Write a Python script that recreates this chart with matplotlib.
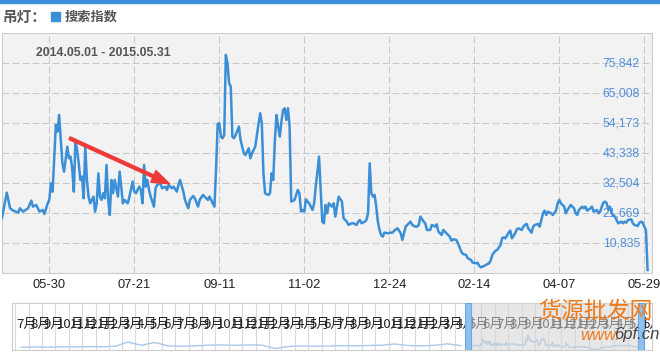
import pandas as pd
import matplotlib
matplotlib.use("Agg")
import matplotlib.pyplot as plt
from matplotlib.patches import Rectangle

# search index for "吊灯", 2014.05.01 - 2015.05.31 (day offset from start, value)
start = pd.Timestamp("2014-05-01")
day_offsets = [
    0, 3, 5, 7, 10, 11, 13, 16, 18, 19, 21, 23, 25, 26, 28, 29, 30, 31, 33, 34,
    35, 36, 37, 38, 40, 41, 42, 43, 44, 45, 46, 47, 48, 49, 50, 51, 52, 53, 54, 56,
    57, 58, 59, 60, 61, 62, 63, 64, 65, 66, 67, 68, 69, 71, 72, 73, 74, 75, 77, 78,
    80, 81, 82, 84, 85, 86, 87, 88, 89, 90, 91, 93, 94, 95, 97, 98, 100, 101, 102, 104,
    105, 107, 108, 109, 111, 112, 114, 115, 117, 118, 120, 121, 123, 124, 126, 127, 129, 130, 131, 132,
    133, 134, 135, 136, 137, 138, 139, 140, 141, 142, 143, 145, 146, 148, 149, 151, 152, 153, 155, 156,
    158, 159, 160, 161, 163, 164, 165, 166, 167, 168, 169, 170, 171, 172, 173, 174, 175, 176, 177, 179,
    180, 181, 182, 183, 184, 185, 186, 187, 188, 190, 191, 192, 194, 195, 196, 197, 198, 199, 200, 201,
    202, 203, 204, 205, 206, 208, 209, 211, 212, 214, 215, 217, 218, 219, 220, 222, 223, 224, 225, 226,
    227, 228, 229, 230, 231, 232, 233, 234, 236, 238, 239, 240, 242, 244, 245, 246, 247, 249, 250, 251,
    253, 254, 255, 256, 258, 259, 260, 262, 263, 265, 266, 267, 269, 270, 272, 274, 275, 276, 278, 279,
    281, 282, 284, 285, 287, 288, 290, 291, 292, 293, 295, 296, 298, 299, 300, 302, 303, 305, 306, 307,
    308, 310, 311, 312, 314, 315, 316, 318, 319, 320, 321, 322, 324, 325, 326, 328, 329, 330, 331, 332,
    333, 334, 336, 337, 339, 340, 341, 342, 344, 345, 346, 348, 350, 351, 352, 353, 355, 356, 357, 358,
    360, 361, 362, 364, 365, 366, 367, 368, 369, 370, 371, 372, 373, 375, 376, 377, 379, 380, 381, 382,
    383, 385, 386, 387, 389, 390, 391, 392, 393, 394, 395,
]
index_vals = [
    19870, 29140, 23480, 22640, 21910, 23480, 22270, 23480, 26250, 24080, 24680, 22270, 22880, 21430, 25280, 26490, 32510, 29500, 53580, 51170,
    57190, 48160, 39730, 36720, 45750, 41540, 42140, 37930, 29500, 48160, 44550, 39730, 33710, 34920, 27090, 45750, 33710, 27690, 25280, 27690,
    22270, 25280, 36120, 27690, 26490, 28900, 27090, 39130, 26490, 21070, 33710, 28900, 33710, 27690, 36720, 31300, 25280, 26490, 25280, 27690,
    33110, 29500, 28900, 31300, 30100, 25280, 39130, 31300, 33710, 30100, 27690, 24080, 30700, 31910, 32510, 30700, 31300, 30100, 31910, 30700,
    31300, 29500, 31910, 33710, 29500, 26490, 23480, 26490, 27930, 27090, 24080, 26490, 28290, 27690, 26490, 27690, 25280, 24080, 37320, 54000,
    54180, 49360, 48760, 49970, 78860, 75850, 68630, 67420, 49360, 48760, 49970, 52980, 48160, 43340, 42740, 45150, 41540, 43340, 45750, 49970,
    57790, 54180, 36120, 28900, 28290, 28900, 36120, 33710, 48160, 57190, 52980, 49360, 54780, 59000, 59600, 55380, 59600, 52980, 25890, 26490,
    28290, 30100, 28900, 22270, 22880, 22270, 26730, 25890, 25280, 22880, 25280, 31300, 42140, 30100, 18660, 18060, 24680, 21670, 25280, 24680,
    24080, 25280, 20470, 24080, 27690, 25890, 19870, 18660, 17460, 18060, 18060, 17460, 18660, 19260, 18060, 18660, 19260, 21670, 39730, 28900,
    27690, 28290, 24080, 18660, 15650, 13850, 13240, 14690, 14450, 14690, 14690, 15410, 16250, 14450, 12040, 14450, 16860, 18060, 18660, 17460,
    16860, 16860, 17460, 20470, 18660, 18060, 15650, 15650, 17460, 16860, 17700, 15050, 13850, 15650, 14450, 13240, 11800, 12280, 12040, 10840,
    7830, 6980, 6620, 5420, 4820, 3850, 3610, 3850, 2650, 2170, 2650, 3010, 3610, 4580, 6620, 8190, 8430, 10230, 12640, 13000,
    12640, 14690, 15410, 12640, 14450, 15890, 16250, 15650, 16860, 17460, 17820, 16250, 14690, 16860, 17460, 17820, 16860, 19260, 21670, 22640,
    21070, 22270, 21670, 21070, 22640, 25280, 26490, 25280, 24080, 21670, 22880, 24680, 23480, 21670, 21070, 22880, 24080, 23480, 24080, 22640,
    23480, 24080, 22270, 22880, 21670, 22270, 24080, 25530, 25890, 25280, 22880, 24080, 21670, 20470, 19260, 18060, 18660, 18060, 18660, 18300,
    19260, 19510, 18060, 17460, 17100, 18300, 18660, 18300, 16860, 15650, 1200,
]

tick_dates = ["2014-05-30", "2014-07-21", "2014-09-11", "2014-11-02",
              "2014-12-24", "2015-02-14", "2015-04-07", "2015-05-29"]
tick_labels = ["05-30", "07-21", "09-11", "11-02", "12-24", "02-14", "04-07", "05-29"]
y_ticks = [10835, 21669, 32504, 43338, 54173, 65008, 75842]
y_max = 86676

# navigator: earlier history, one value per month from 2011-07
nav_early = [15000, 16000, 15000, 17000, 16000, 18000, 17000, 20000, 42000, 25000,
             40000, 22000, 20000, 22000, 26000, 27000, 25000, 27000, 26000, 8000,
             18000, 22000, 20000, 21000, 23000, 22000, 24000, 25000, 32000, 24000,
             22000, 25000, 33000, 23000]
nav_start = pd.Timestamp("2011-07-01")

blue = "#3a8fd6"
W, H = 660, 353


def box(x0, y0, x1, y1):
    # pixel box (top-left origin) -> figure fraction
    return [x0 / W, 1 - y1 / H, (x1 - x0) / W, (y1 - y0) / H]


plt.rcParams["font.family"] = ["Liberation Sans", "Noto Sans CJK SC", "DejaVu Sans"]
fig = plt.figure(figsize=(W / 100, H / 100), dpi=100)

# header
fig.patches.append(Rectangle((0, 1 - 2.5 / H), 1, 2.5 / H, transform=fig.transFigure,
                             color=blue, zorder=5))
cjk = ["Noto Sans CJK SC", "DejaVu Sans"]
fig.text(2 / W, 1 - 17 / H, "吊灯：", family=cjk, weight="bold", size=10.5,
         color="#555555", va="center")
fig.patches.append(Rectangle((51 / W, 1 - 21 / H), 8.5 / W, 8.5 / H,
                             transform=fig.transFigure, color=blue))
fig.text(65 / W, 1 - 17 / H, "搜索指数", family=cjk, weight="bold", size=9.5,
         color="#555555", va="center")

# main chart
ax = fig.add_axes(box(2, 33.3, 652, 273.3))
ax.set_facecolor("#f2f2f2")
dates = start + pd.to_timedelta(day_offsets, unit="D")
ax.plot(dates, index_vals, color=blue, lw=1.8, solid_joinstyle="round", zorder=3)
ax.set_xlim(start + pd.Timedelta(days=0.06), start + pd.Timedelta(days=397.7))
ax.set_ylim(0, y_max)
ax.set_xticks(pd.to_datetime(tick_dates))
ax.set_xticklabels(tick_labels, size=9.3, color="#222222")
ax.set_yticks(y_ticks)
ax.set_yticklabels([])
ax.tick_params(length=0, pad=4)
ax.grid(True, color="#c8c8c8", lw=0.75, ls=(0, (6.7, 2.9)))
for s in ax.spines.values():
    s.set_color("#cccccc")
for v in y_ticks:
    ax.text(0.9815, v, f"{v:,}", transform=ax.get_yaxis_transform(), ha="right",
            va="center", size=8.7, color="#4f8fdc", zorder=4)
ax.text(0.052, 0.92, "2014.05.01 - 2015.05.31", transform=ax.transAxes, size=8.8,
        weight="bold", color="#555555", va="center")

# red arrow annotation
ax.annotate("", xy=(start + pd.Timedelta(days=102.7), 32300),
            xytext=(start + pd.Timedelta(days=41.4), 48800),
            arrowprops=dict(arrowstyle="simple,head_length=1.0,head_width=0.7,tail_width=0.16",
                            color="#f03a3a", mutation_scale=13, shrinkA=0, shrinkB=0),
            zorder=5)

# navigator
nav = fig.add_axes(box(12, 303, 652, 350))
nav.set_facecolor("white")
months = pd.date_range(nav_start, "2015-06-01", freq="MS")
early_dates = pd.date_range(nav_start, periods=len(nav_early), freq="MS") + pd.Timedelta(days=14)
nav.plot(early_dates, nav_early, color="#a9c9ea", lw=1)
nav.plot(dates, index_vals, color="#a9c9ea", lw=1)
nav.set_xlim(nav_start - pd.Timedelta(days=7), nav_start + pd.Timedelta(days=1456))
nav.set_ylim(0, 250000)
for m in months:
    nav.axvline(m, color="#dadada", lw=0.8, zorder=0)
    nav.text(m + pd.Timedelta(days=3), 0.55, f"{m.month}月", transform=nav.get_xaxis_transform(),
             family=cjk, size=9.5, color="#222222", va="center", clip_on=True)
sel_end = start + pd.Timedelta(days=395)
nav.axvspan(start, sel_end, color="#d4d4d4", alpha=0.55, lw=0, zorder=4)
for d in (start, sel_end):
    nav.axvspan(d - pd.Timedelta(days=7), d + pd.Timedelta(days=7), color="#8fc1ef",
                ec="#6aa8e6", lw=0.8, zorder=5)
nav.set_xticks([])
nav.set_yticks([])
for s in nav.spines.values():
    s.set_color("#cccccc")

# watermark
fig.text(538 / W, 1 - 312 / H, "货源批发网", family=cjk, size=16.5, color="#f07a1a",
         va="center", zorder=10)
fig.text(580 / W, 1 - 335 / H, "www.", size=12, style="italic", color="#f07a1a",
         va="center", zorder=10)
fig.text(614 / W, 1 - 335 / H, "6pf.cn", size=12, style="italic", color="#444444",
         va="center", zorder=10)

fig.savefig("out.png", dpi=100)
